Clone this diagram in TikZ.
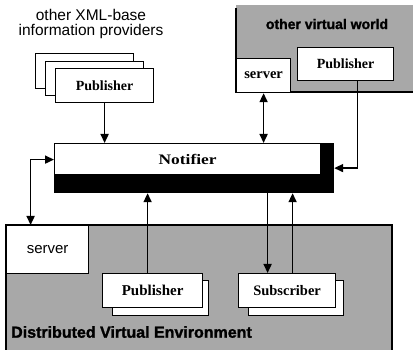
\documentclass[tikz,border=0pt]{standalone}
\usepackage{fontspec}
\setmainfont{Liberation Serif}
\newfontfamily\sansf{Liberation Sans}
\newfontfamily\heavyf{Liberation Sans Bold}[FakeBold=1.5]
\usetikzlibrary{arrows.meta}
\definecolor{texture}{gray}{0.66}
\tikzset{
  box/.style={draw=black, fill=white, line width=1.2pt, inner sep=0pt, anchor=north west},
  lbl/.style={font=\fontsize{14.5}{16}\selectfont\bfseries},
  arr/.style={line width=1.6pt, -{Triangle[length=9pt,width=8pt]}},
  darr/.style={line width=1.6pt, {Triangle[length=9pt,width=8pt]}-{Triangle[length=9pt,width=8pt]}},
  plain/.style={inner sep=0pt, align=center}
}
\begin{document}
\begin{tikzpicture}[x=1pt,y=-1pt]
\useasboundingbox (0,0) rectangle (413,350);
% textured areas
\fill[texture] (236,5) rectangle (413,92);
\draw[line width=1.2pt] (236,8) -- (236,92) -- (413,92);
\fill[texture] (6,225) rectangle (392,350);
\draw[line width=1.2pt] (6,350) -- (6,225) -- (392,225) -- (392,350);
% texts
\node[plain, font=\sansf\fontsize{15.5}{15}\selectfont] (prov) at (91,24) {other XML-base\\information providers};
\node[plain, font=\heavyf\fontsize{14}{14}\selectfont] (ovw) at (327,24) {other virtual world};
\node[plain, font=\heavyf\fontsize{16}{16}\selectfont, anchor=west] (dve) at (11,332) {Distributed Virtual Environment};
% top-left publisher stack
\node[box, minimum width=98pt, minimum height=35pt] (pubA3) at (35,53) {};
\node[box, minimum width=98pt, minimum height=34pt] (pubA2) at (45,61) {};
\node[box, minimum width=98pt, minimum height=34pt, lbl, font=\fontsize{14}{16}\selectfont\bfseries] (pubA) at (55,68) {Publisher};
% top-right world
\node[box, minimum width=54pt, minimum height=34pt, lbl] (srvB) at (236,58) {server};
\node[box, minimum width=96pt, minimum height=33pt, lbl, font=\fontsize{14}{16}\selectfont\bfseries] (pubB) at (297,47) {Publisher};
% notifier
\node[box, fill=black, minimum width=279pt, minimum height=49pt] (notif) at (54,143) {};
\node[box, minimum width=266pt, minimum height=31pt, lbl] (notifw) at (54,143) {\scalebox{1.2}[1]{Notifier}};
% DVE
\node[box, minimum width=82pt, minimum height=48pt, font=\sansf\fontsize{15}{15}\selectfont] (srvA) at (6,225) {server};
\node[box, minimum width=96pt, minimum height=35pt] (pubCs) at (112,280) {};
\node[box, minimum width=100pt, minimum height=34pt, lbl, font=\fontsize{15}{16}\selectfont\bfseries] (pubC) at (102,273) {Publisher};
\node[box, minimum width=95pt, minimum height=35pt] (subs) at (248,280) {};
\node[box, minimum width=97pt, minimum height=34pt, lbl] (sub) at (238,273) {Subscriber};
% connectors
\draw[arr] (pubA.south) -- (pubA.south |- notif.north);
\draw[darr] (srvB.south) -- (srvB.south |- notif.north);
\draw[arr] ([xshift=12pt]pubB.south) |- (notif.east);
\draw[darr] ([xshift=-17pt]srvA.north) |- ([yshift=8.5pt]notif.west);
\draw[arr] ([xshift=-5pt]pubC.north) -- ([xshift=-5pt]pubC.north |- notif.south);
\draw[arr] ([xshift=-19.5pt]sub.north |- notif.south) -- ([xshift=-19.5pt]sub.north);
\draw[arr] ([xshift=5.5pt]sub.north) -- ([xshift=5.5pt]sub.north |- notif.south);
\end{tikzpicture}
\end{document}
